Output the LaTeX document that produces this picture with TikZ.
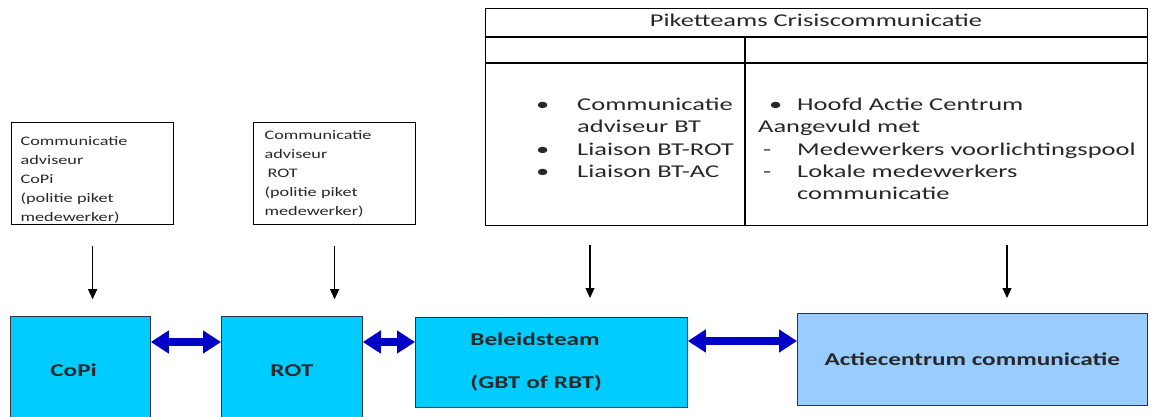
\documentclass[tikz,border=0pt]{standalone}
\usepackage{fontspec}
\setmainfont{Carlito}[FakeStretch=1.4]
\newfontfamily\tabfont{Carlito}[FakeStretch=1.47]
\usetikzlibrary{arrows.meta}
\definecolor{cyanbox}{RGB}{0,204,255}
\definecolor{lightbox}{RGB}{153,204,255}
\definecolor{arrblue}{RGB}{0,0,200}
\definecolor{edgedark}{RGB}{50,50,70}
\definecolor{txtgray}{RGB}{40,40,40}
\begin{document}
\begin{tikzpicture}[x=1pt,y=-1pt,
  txtbox/.style={draw=black, line width=1.2pt, anchor=north west, inner ysep=0pt, text=txtgray},
  smalltxt/.style={font=\fontsize{13}{19}\selectfont},
  tabtxt/.style={font=\tabfont\fontsize{18}{22}\selectfont, anchor=base west, inner sep=0pt, text=txtgray},
  unitbox/.style={draw=edgedark, line width=0.8pt, fill=cyanbox, anchor=north west, inner ysep=0pt, text=txtgray, font=\fontsize{18}{43}\selectfont\bfseries},
  darr/.style={-{Triangle[length=10pt,width=9pt]}, line width=1.2pt},
  barr/.style={{Triangle[length=18pt,width=22pt]}-{Triangle[length=18pt,width=22pt]}, line width=8pt, draw=arrblue}
]
\useasboundingbox (0,0) rectangle (1157,417);
\fill[white] (0,0) rectangle (1157,417);

% upper text boxes
\node[txtbox, smalltxt, minimum width=162pt, minimum height=102pt, text width=144pt, inner xsep=9pt, align=left] (copiTxt) at (11,122)
  {\rule{0pt}{21pt}Communicatie\\adviseur\\CoPi\\(politie piket\\medewerker)};
\node[txtbox, smalltxt, minimum width=162pt, minimum height=102pt, text width=140pt, inner xsep=11pt, align=left] (rotTxt) at (253,122)
  {Communicatie\\adviseur\\\hspace{3pt}ROT\\(politie piket\\medewerker)\\[6pt]};

% table
\node[draw=black, line width=1.2pt, anchor=north west, minimum width=662pt, minimum height=217pt, inner sep=0pt] (tab) at (485,8) {};
\draw[line width=1.2pt] (485,37) -- (1147,37);
\draw[line width=1.2pt] (485,63) -- (1147,63);
\draw[line width=1.2pt] (745,37) -- (745,225);
\node[tabtxt, anchor=base] (hdr) at (816,27) {Piketteams Crisiscommunicatie};

\node[tabtxt] (lb1) at (536,111) {•};
\node[tabtxt] (lt1) at (577,111) {Communicatie};
\node[tabtxt] (lt2) at (577,133) {adviseur BT};
\node[tabtxt] (lb3) at (536,156) {•};
\node[tabtxt] (lt3) at (577,156) {Liaison BT-ROT};
\node[tabtxt] (lb4) at (536,178) {•};
\node[tabtxt] (lt4) at (577,178) {Liaison BT-AC};

\node[tabtxt] (rb1) at (769,111) {•};
\node[tabtxt] (rt1) at (797,111) {Hoofd Actie Centrum};
\node[tabtxt] (rt2) at (758,133) {Aangevuld met};
\node[tabtxt] (rd3) at (763,156) {-};
\node[tabtxt] (rt3) at (797,156) {Medewerkers voorlichtingspool};
\node[tabtxt] (rd4) at (763,178) {-};
\node[tabtxt] (rt4) at (797,178) {Lokale medewerkers};
\node[tabtxt] (rt5) at (797,200) {communicatie};

\coordinate (tabL) at (590,225);
\coordinate (tabR) at (1007,225);

% bottom boxes
\node[unitbox, minimum width=140pt, minimum height=108pt, text width=60pt, inner xsep=40pt, align=left] (copi) at (10,316) {CoPi};
\node[unitbox, minimum width=141pt, minimum height=108pt, inner xsep=0pt, align=center] (rot) at (221,316) {ROT};
\node[unitbox, minimum width=272pt, minimum height=90pt, text width=162pt, inner xsep=55pt, align=left] (bt) at (415,317) {Beleidsteam\\(GBT of RBT)};
\node[unitbox, fill=lightbox, minimum width=350pt, minimum height=92pt, inner xsep=0pt, align=center] (ac) at (797,313) {Actiecentrum communicatie};

% down arrows
\draw[darr] ([yshift=-21pt]copiTxt.south) -- ++(0,53);
\draw[darr] ([yshift=-21pt]rotTxt.south) -- ++(0,53);
\draw[darr] ([yshift=-20pt]tabL) -- ++(0,53);
\draw[darr] ([yshift=-20pt]tabR) -- ++(0,53);

% double arrows
\coordinate (arrY) at (0,342);
\coordinate (arrY2) at (0,341);
\draw[barr] (copi.east |- arrY) -- (rot.west |- arrY);
\draw[barr] (rot.east |- arrY) -- (bt.west |- arrY);
\draw[barr] (bt.east |- arrY2) -- (ac.west |- arrY2);
\end{tikzpicture}
\end{document}
